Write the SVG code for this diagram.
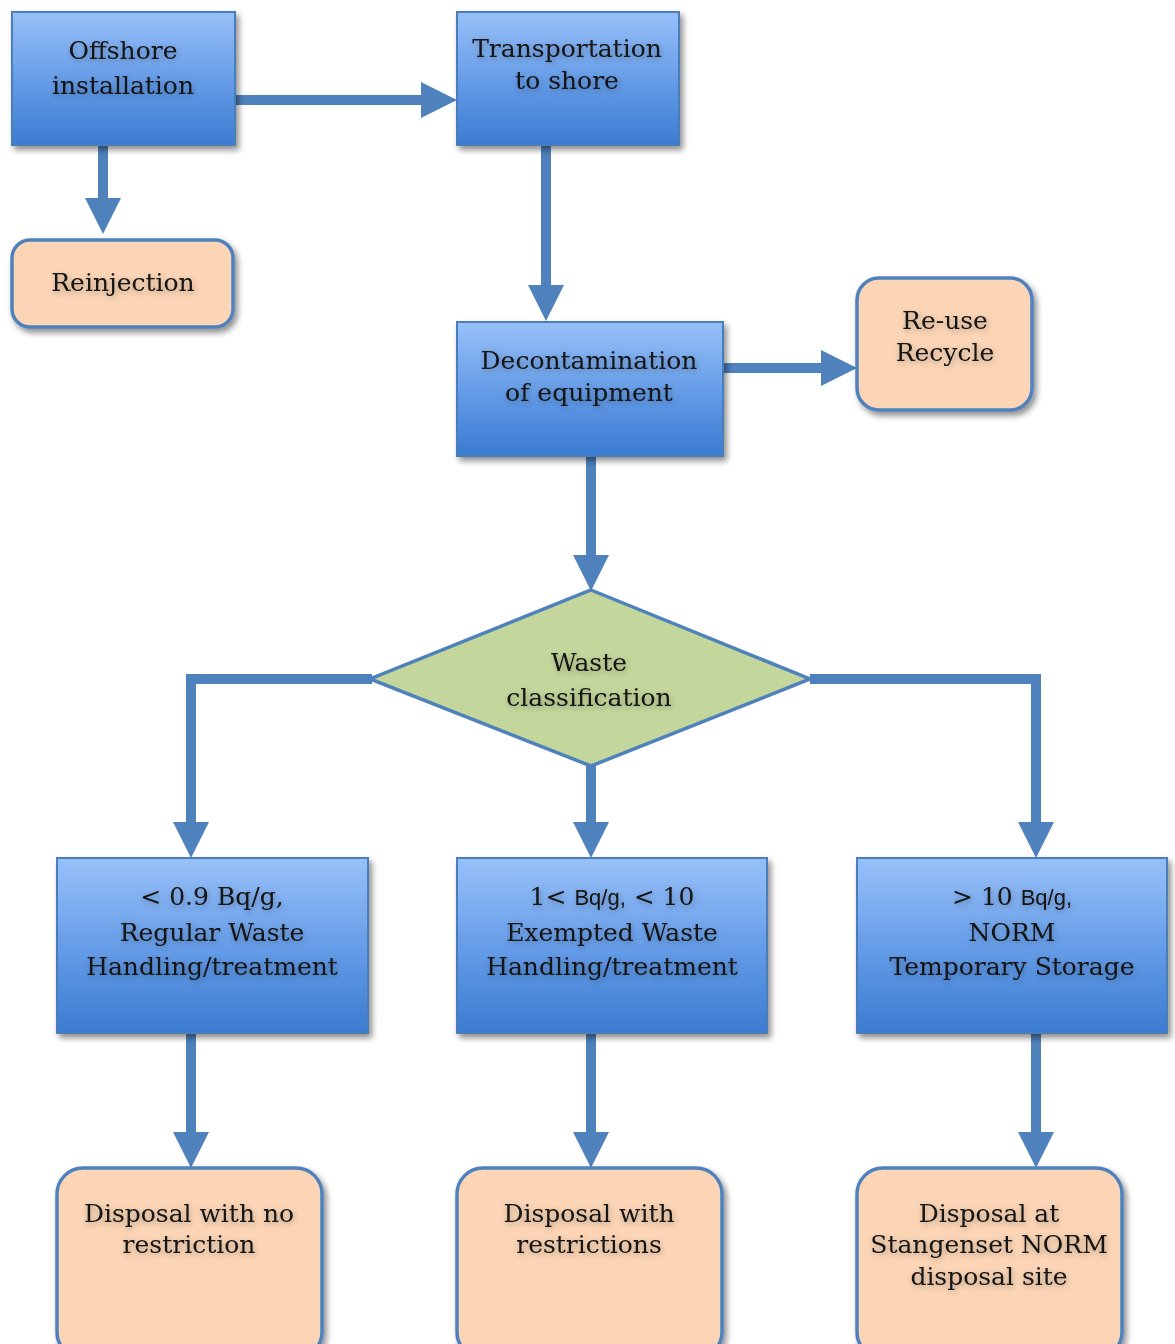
<svg xmlns="http://www.w3.org/2000/svg" width="1175" height="1344" viewBox="0 0 1175 1344">
  <style>
    .blue { fill: url(#blueGrad); stroke: #4a7ebb; stroke-width: 2; filter: url(#boxShadow); }
    .peach { fill: #fbd5b5; stroke: #4f81bd; stroke-width: 3.5; filter: url(#boxShadow); }
    .dia { fill: #c3d69b; stroke: #4f81bd; stroke-width: 3.5; }
    .lbl { font-family: "DejaVu Serif", "Liberation Serif", serif; font-size: 25px; fill: #121212; text-anchor: middle; filter: url(#textGlow); }
    .sans { font-family: "Liberation Sans", Arial, sans-serif; font-size: 22px; }
    .conn { fill: none; stroke: #4f81bd; stroke-width: 10; marker-end: url(#head); }
  </style>
  <defs>
    <linearGradient id="blueGrad" x1="0" y1="0" x2="0" y2="1">
      <stop offset="0" stop-color="#98c0f8"/>
      <stop offset="0.55" stop-color="#629ae6"/>
      <stop offset="1" stop-color="#3b7bd0"/>
    </linearGradient>
    <filter id="boxShadow" x="-10%" y="-10%" width="125%" height="130%">
      <feGaussianBlur in="SourceAlpha" stdDeviation="3"/>
      <feOffset dx="3" dy="4" result="b"/>
      <feComponentTransfer><feFuncA type="linear" slope="0.45"/></feComponentTransfer>
      <feMerge><feMergeNode/><feMergeNode in="SourceGraphic"/></feMerge>
    </filter>
    <filter id="textGlow" x="-10%" y="-30%" width="120%" height="170%">
      <feGaussianBlur in="SourceAlpha" stdDeviation="3"/>
      <feOffset dx="1" dy="2"/>
      <feComponentTransfer><feFuncA type="linear" slope="0.3"/></feComponentTransfer>
      <feMerge><feMergeNode/><feMergeNode in="SourceGraphic"/></feMerge>
    </filter>
    <marker id="head" markerUnits="userSpaceOnUse" markerWidth="38" markerHeight="38" refX="0" refY="18" orient="auto">
      <path d="M0,0 L36,18 L0,36 Z" fill="#4f81bd"/>
    </marker>
  </defs>

  <rect width="1175" height="1344" fill="#ffffff"/>

  <!-- connectors -->
  <g id="connectors">
    <path class="conn" d="M235,100 H421"/>
    <path class="conn" d="M103,145 V198"/>
    <path class="conn" d="M546,145 V285"/>
    <path class="conn" d="M723,368 H821"/>
    <path class="conn" d="M591,456 V555"/>
    <path class="conn" d="M372,679 H191 V822"/>
    <path class="conn" d="M591,766 V822"/>
    <path class="conn" d="M810,679 H1036 V822"/>
    <path class="conn" d="M191,1033 V1132"/>
    <path class="conn" d="M591,1033 V1132"/>
    <path class="conn" d="M1036,1033 V1132"/>
  </g>

  <g id="offshore">
    <rect class="blue" x="12" y="12" width="223" height="133"/>
    <text class="lbl" x="123" y="59">Offshore</text>
    <text class="lbl" x="123" y="94">installation</text>
  </g>

  <g id="transport">
    <rect class="blue" x="457" y="12" width="222" height="133"/>
    <text class="lbl" x="567" y="57">Transportation</text>
    <text class="lbl" x="567" y="89">to shore</text>
  </g>

  <g id="reinjection">
    <rect class="peach" x="12" y="240" width="221" height="87" rx="18"/>
    <text class="lbl" x="123" y="291">Reinjection</text>
  </g>

  <g id="decontamination">
    <rect class="blue" x="457" y="322" width="266" height="134"/>
    <text class="lbl" x="589" y="369">Decontamination</text>
    <text class="lbl" x="589" y="401">of equipment</text>
  </g>

  <g id="reuse">
    <rect class="peach" x="857" y="278" width="175" height="132" rx="22"/>
    <text class="lbl" x="945" y="329">Re-use</text>
    <text class="lbl" x="945" y="361">Recycle</text>
  </g>

  <g id="classification">
    <polygon class="dia" points="591,590 810,679 591,766 370,679"/>
    <text class="lbl" x="589" y="671">Waste</text>
    <text class="lbl" x="589" y="706">classification</text>
  </g>

  <g id="regular">
    <rect class="blue" x="57" y="858" width="311" height="175"/>
    <text class="lbl" x="212" y="905">&lt; 0.9 Bq/g,</text>
    <text class="lbl" x="212" y="941">Regular Waste</text>
    <text class="lbl" x="212" y="975">Handling/treatment</text>
  </g>

  <g id="exempted">
    <rect class="blue" x="457" y="858" width="310" height="175"/>
    <text class="lbl" x="612" y="905">1&lt; <tspan class="sans">Bq/g,</tspan> &lt; 10</text>
    <text class="lbl" x="612" y="941">Exempted Waste</text>
    <text class="lbl" x="612" y="975">Handling/treatment</text>
  </g>

  <g id="norm">
    <rect class="blue" x="857" y="858" width="310" height="175"/>
    <text class="lbl" x="1012" y="905">&gt; 10 <tspan class="sans">Bq/g,</tspan></text>
    <text class="lbl" x="1012" y="941">NORM</text>
    <text class="lbl" x="1012" y="975">Temporary Storage</text>
  </g>

  <g id="disposal-free">
    <rect class="peach" x="57" y="1168" width="265" height="190" rx="26"/>
    <text class="lbl" x="189" y="1222">Disposal with no</text>
    <text class="lbl" x="189" y="1253">restriction</text>
  </g>

  <g id="disposal-restricted">
    <rect class="peach" x="457" y="1168" width="265" height="190" rx="26"/>
    <text class="lbl" x="589" y="1222">Disposal with</text>
    <text class="lbl" x="589" y="1253">restrictions</text>
  </g>

  <g id="disposal-norm">
    <rect class="peach" x="857" y="1168" width="265" height="190" rx="26"/>
    <text class="lbl" x="989" y="1222">Disposal at</text>
    <text class="lbl" x="989" y="1253">Stangenset NORM</text>
    <text class="lbl" x="989" y="1285">disposal site</text>
  </g>
</svg>
